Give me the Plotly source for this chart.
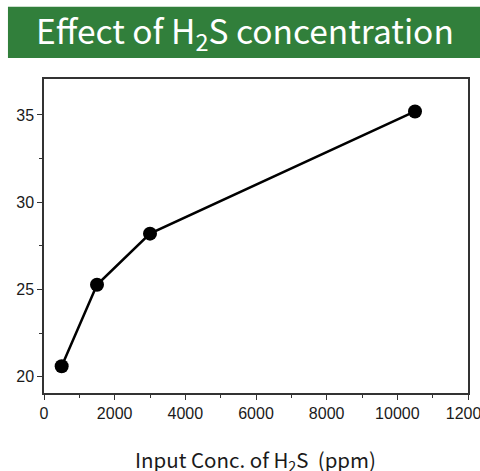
import plotly.graph_objects as go

# input H2S concentration (ppm) and measured response
conc_ppm = [500, 1500, 3000, 10500]
response = [20.6, 25.27, 28.2, 35.2]

x_ticks = [0, 2000, 4000, 6000, 8000, 10000, 12000]
y_ticks = [20, 25, 30, 35]

GREEN = '#317f3b'
INK = '#1a1a1a'

fig = go.Figure()
fig.add_trace(go.Scatter(
    x=conc_ppm, y=response, mode='lines+markers',
    line=dict(color='black', width=2.5),
    marker=dict(color='black', size=14),
    showlegend=False,
))

axis_common = dict(
    showline=True, linecolor='#333333', linewidth=1.5, mirror=True,
    ticks='outside', ticklen=5, tickwidth=1.2, tickcolor='#333333',
    showgrid=False, zeroline=False, ticklabeloverflow='allow', automargin=False,
    tickfont=dict(family='Liberation Sans, Arial, sans-serif', size=16, color=INK),
)

fig.update_xaxes(
    range=[0, 12000], tickvals=x_ticks, tickformat='d',
    minor=dict(dtick=1000, ticks='outside', ticklen=3, tickcolor='#333333'),
    **axis_common,
)
fig.update_yaxes(
    range=[19.07, 37.06], tickvals=y_ticks,
    minor=dict(dtick=2.5, ticks='outside', ticklen=3, tickcolor='#333333'),
    **axis_common,
)

# green title banner
fig.add_shape(type='rect', xref='paper', yref='paper',
              x0=-0.085, x1=1.03, y0=1.067, y1=1.23,
              fillcolor=GREEN, line=dict(width=0), layer='above')
fig.add_annotation(
    text='Effect of H<sub>2</sub>S concentration', xref='paper', yref='paper',
    x=0.475, y=1.15, xanchor='center', yanchor='middle', showarrow=False,
    font=dict(family='Noto Sans CJK KR, Noto Sans, sans-serif', size=33.5, color='white'),
)
fig.add_annotation(
    text='Input Conc. of H<sub>2</sub>S  (ppm)', xref='paper', yref='paper',
    x=0.498, y=-0.213, xanchor='center', yanchor='middle', showarrow=False,
    font=dict(family='Noto Sans CJK KR, Noto Sans, sans-serif', size=20.5, color=INK),
)

fig.update_layout(
    width=480, height=471,
    margin=dict(l=44, r=12, t=79, b=78),
    paper_bgcolor='white', plot_bgcolor='white',
)

# sit flush with the window and clip the last tick label at the edge
fig.write_html(
    'out.html',
    config={'displayModeBar': False},
    post_script="var gd=document.getElementById('{plot_id}');"
                "document.body.style.margin='0';"
                "gd.style.overflow='hidden';"
                "gd.querySelectorAll('.svg-container, .main-svg')"
                ".forEach(function(e){e.style.overflow='hidden';});",
)
